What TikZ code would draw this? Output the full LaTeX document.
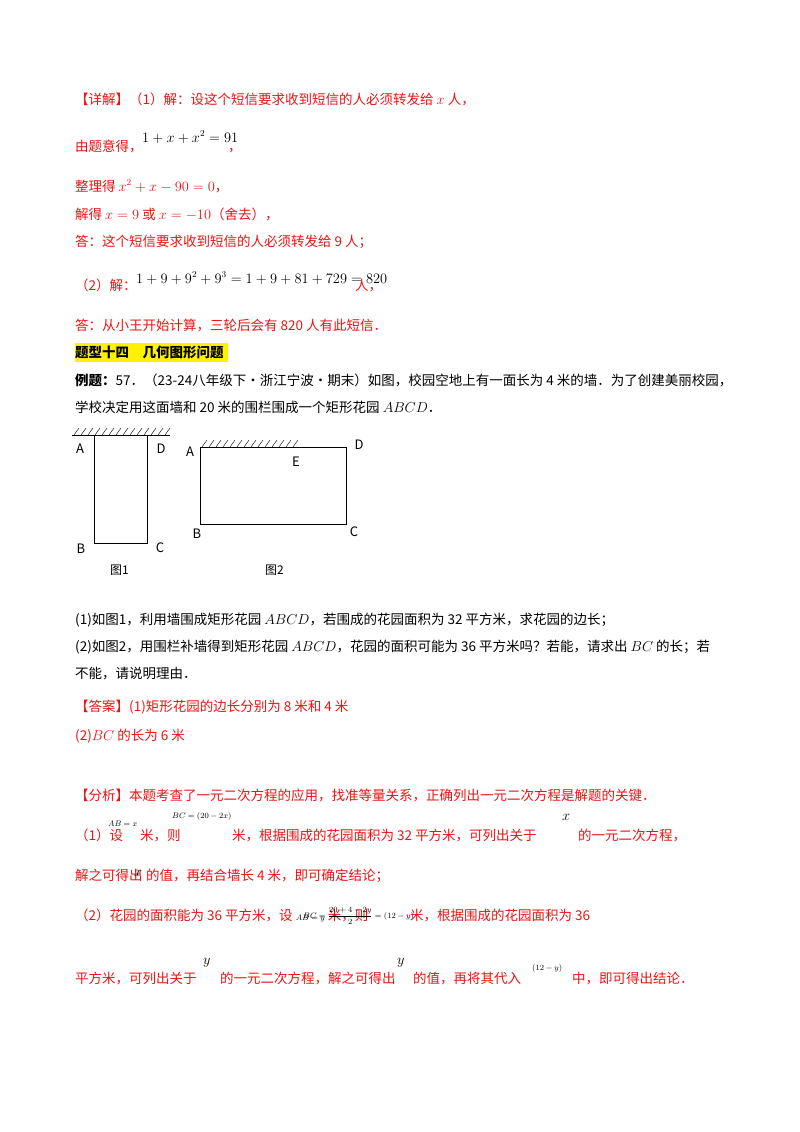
\documentclass[tikz,border=0pt]{standalone}
\usepackage{fontspec}
\setmainfont{Noto Sans CJK SC}
\definecolor{ans}{RGB}{235,20,20}
\begin{document}
\begin{tikzpicture}[x=1pt,y=-1pt,
  t/.style={anchor=base west,inner sep=0pt,font=\fontsize{13.5}{16}\selectfont},
  r/.style={t,text=ans},
  lab/.style={inner sep=0pt,font=\fontsize{13}{15}\selectfont\itshape},
  fig/.style={line width=1pt}]
\useasboundingbox[fill=white] (0,0) rectangle (800,1132);
\node[r] (l1) at (75,104) {【详解】（1）解：设这个短信要求收到短信的人必须转发给 $x$ 人，};
\node[r] (l2) at (75,151) {由题意得，};
\node[t,anchor=base west] (l2m) at (142,142) {$1+x+x^2=91$};
\node[r] (l2c) at (228,151) {，};
\node[r] (l3) at (75,191) {整理得 $x^2+x-90=0$，};
\node[r] (l4) at (75,219) {解得 $x=9$ 或 $x=-10$（舍去），};
\node[r] (l5) at (75,246) {答：这个短信要求收到短信的人必须转发给 9 人；};
\node[r] (l6) at (75,290) {（2）解：};
\node[t] (l6m) at (136,283) {$1+9+9^2+9^3=1+9+81+729=820$};
\node[r] (l6c) at (355,290) {人，};
\node[r] (l7) at (75,330) {答：从小王开始计算，三轮后会有 820 人有此短信．};
\fill[yellow] (75,343) rectangle (228,362);
\node[t,font=\fontsize{13.5}{16}\selectfont\bfseries] (h) at (75,357) {题型十四\quad 几何图形问题};
\node[t] (l8) at (75,385) {\textbf{例题：}57．（23-24八年级下·浙江宁波·期末）如图，校园空地上有一面长为 4 米的墙．为了创建美丽校园，};
\node[t] (l9) at (75,412) {学校决定用这面墙和 20 米的围栏围成一个矩形花园 $ABCD$．};
% figure 1
\coordinate (w1a) at (72,435); \coordinate (w1b) at (170,435);
\draw[fig] (w1a) -- (w1b);
\foreach \i in {0,...,13} \draw (74+7*\i,435) -- ++(5,-7);
\draw[fig] (94,435) -- (94,543) -- (147,543) -- (147,435);
\node[lab] (A1) at (80,449) {A};
\node[lab] (D1) at (161,449) {D};
\node[lab] (B1) at (81,549) {B};
\node[lab] (C1) at (160,548) {C};
\node[t,font=\fontsize{12}{14}\selectfont] (f1) at (110,574) {图1};
% figure 2
\draw[fig] (200,447) rectangle (346,524);
\foreach \i in {0,...,13} \draw (202+7*\i,447) -- ++(5,-7);
\node[lab] (A2) at (190,452) {A};
\node[lab] (D2) at (359,445) {D};
\node[lab] (E2) at (296,462) {E};
\node[lab] (B2) at (197,534) {B};
\node[lab] (C2) at (354,532) {C};
\node[t,font=\fontsize{12}{14}\selectfont] (f2) at (265,574) {图2};
\node[t] (q1) at (75,624) {(1)如图1，利用墙围成矩形花园 $ABCD$，若围成的花园面积为 32 平方米，求花园的边长；};
\node[t] (q2) at (75,651) {(2)如图2，用围栏补墙得到矩形花园 $ABCD$，花园的面积可能为 36 平方米吗？若能，请求出 $BC$ 的长；若};
\node[t] (q3) at (75,678) {不能，请说明理由．};
\node[r] (a1) at (75,711) {【答案】(1)矩形花园的边长分别为 8 米和 4 米};
\node[r] (a2) at (75,740) {(2)$BC$ 的长为 6 米};
\node[r] (s1) at (75,800) {【分析】本题考查了一元二次方程的应用，找准等量关系，正确列出一元二次方程是解题的关键．};
\node[r] (s2) at (75,840) {（1）设};
\node[t,font=\footnotesize] (s2a) at (108,826) {$AB=x$};
\node[r] (s2b) at (140,840) {米，则};
\node[t,font=\footnotesize] (s2c) at (172,818) {$BC=(20-2x)$};
\node[r] (s2d) at (232,840) {米，根据围成的花园面积为 32 平方米，可列出关于};
\node[t] (s2e) at (562,820) {$x$};
\node[r] (s2f) at (578,840) {的一元二次方程，};
\node[r] (s3) at (75,880) {解之可得出};
\node[t] (s3a) at (134,876) {$x$};
\node[r] (s3b) at (146,880) {的值，再结合墙长 4 米，即可确定结论；};
\node[r] (s4) at (75,920) {（2）花园的面积能为 36 平方米，设 {\color{black}\footnotesize$AB=y$} 米，则};
\node[t,font=\footnotesize] (s4a) at (303,918) {$BC=\displaystyle\frac{20+4-2y}{2}=(12-y)$};
\node[r] (s4b) at (410,920) {米，根据围成的花园面积为 36};
\node[r] (s5) at (75,983) {平方米，可列出关于};
\node[t] (s5a) at (203,964) {$y$};
\node[r] (s5b) at (220,983) {的一元二次方程，解之可得出};
\node[t] (s5a2) at (397,964) {$y$};
\node[r] (s5c) at (413,983) {的值，再将其代入};
\node[t,font=\footnotesize] (s5d) at (532,970) {$(12-y)$};
\node[r] (s5e) at (572,983) {中，即可得出结论．};
\end{tikzpicture}
\end{document}
